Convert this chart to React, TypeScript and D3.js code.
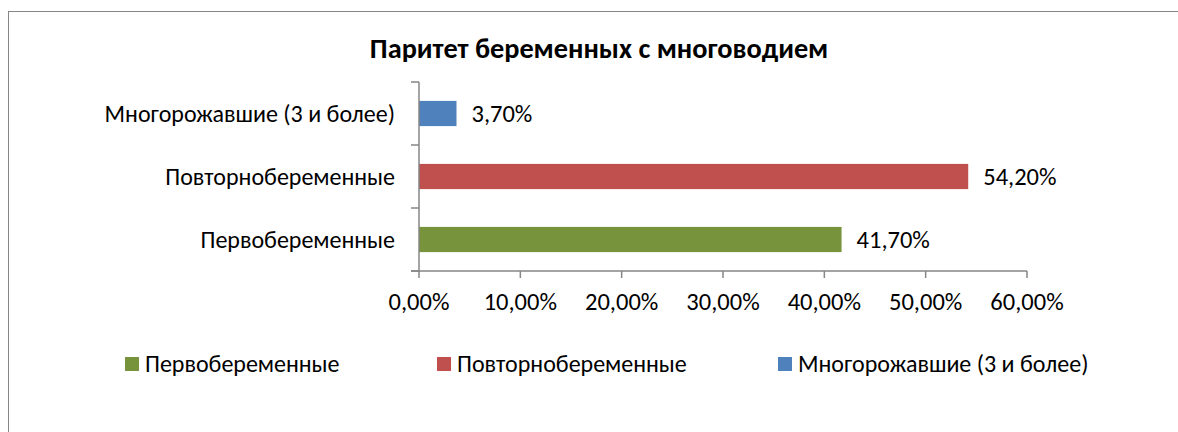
import React, { useRef, useEffect } from "react";
import * as d3 from "d3";

// data
const categories = ["Первобеременные", "Повторнобеременные", "Многорожавшие (3 и более)"];
const values = [41.7, 54.2, 3.7];
const colors = ["#77933C", "#C0504D", "#4F81BD"];
const xTicks = [0, 10, 20, 30, 40, 50, 60];
const title = "Паритет беременных с многоводием";

const FONT = "Carlito, Calibri, 'Noto Sans', sans-serif";
const TEXT_SIZE = "24px";
const NUM_SIZE = "24.5px";

const fmt = (v: number) => v.toFixed(2).replace(".", ",") + "%";

const App = () => {
  const ref = useRef<SVGSVGElement>(null);

  useEffect(() => {
    const width = 1178;
    const height = 432;
    const svg = d3.select(ref.current);
    svg.selectAll("*").remove();
    svg.attr("width", width).attr("height", height);

    svg
      .append("rect")
      .attr("x", 8.5)
      .attr("y", 11.5)
      .attr("width", 1200)
      .attr("height", 500)
      .attr("fill", "#fff")
      .attr("stroke", "#868686");

    svg
      .append("text")
      .attr("x", 599)
      .attr("y", 58)
      .attr("text-anchor", "middle")
      .style("font-family", FONT)
      .style("font-size", "28.3px")
      .style("font-weight", "bold")
      .text(title);

    const x = d3.scaleLinear().domain([0, 60]).range([419, 1027]);
    // top-to-bottom order is reversed (Excel bar chart)
    const order = [...categories].reverse();
    const y = d3
      .scaleBand()
      .domain(order)
      .range([82, 271])
      .paddingInner(0.6)
      .paddingOuter(0.3);

    const axisColor = "#868686";

    // bars
    svg
      .selectAll(".bar")
      .data(categories)
      .enter()
      .append("rect")
      .attr("x", x(0))
      .attr("y", (d) => y(d)!)
      .attr("width", (d, i) => x(values[i]) - x(0))
      .attr("height", y.bandwidth())
      .attr("fill", (d, i) => colors[i]);

    // value labels
    svg
      .selectAll(".val")
      .data(categories)
      .enter()
      .append("text")
      .attr("x", (d, i) => x(values[i]) + 15)
      .attr("y", (d) => y(d)! + y.bandwidth() / 2)
      .attr("dy", "0.35em")
      .style("font-family", FONT)
      .style("font-size", NUM_SIZE)
      .text((d, i) => fmt(values[i]));

    // y axis line + ticks at band boundaries
    const yAxis = svg.append("g").attr("stroke", axisColor).attr("stroke-width", 1.5);
    yAxis.append("line").attr("x1", x(0)).attr("x2", x(0)).attr("y1", 82).attr("y2", 271);
    d3.range(order.length + 1).forEach((i) => {
      const yy = 82 + i * y.step();
      yAxis.append("line").attr("x1", x(0) - 8).attr("x2", x(0)).attr("y1", yy).attr("y2", yy);
    });

    svg
      .selectAll(".cat")
      .data(categories)
      .enter()
      .append("text")
      .attr("x", x(0) - 24)
      .attr("y", (d) => y(d)! + y.bandwidth() / 2)
      .attr("dy", "0.35em")
      .attr("text-anchor", "end")
      .style("font-family", FONT)
      .style("font-size", TEXT_SIZE)
      .text((d) => d);

    // x axis
    const xAxis = svg.append("g").attr("stroke", axisColor).attr("stroke-width", 1.5);
    xAxis.append("line").attr("x1", x(0) - 8).attr("x2", x(60)).attr("y1", 271).attr("y2", 271);
    xTicks.forEach((t) => {
      xAxis.append("line").attr("x1", x(t)).attr("x2", x(t)).attr("y1", 271).attr("y2", 278);
    });
    svg
      .selectAll(".xt")
      .data(xTicks)
      .enter()
      .append("text")
      .attr("x", (t) => x(t))
      .attr("y", 301)
      .attr("dy", "0.35em")
      .attr("text-anchor", "middle")
      .style("font-family", FONT)
      .style("font-size", NUM_SIZE)
      .text((t) => fmt(t));

    // legend
    const legendX = [125, 437, 778];
    const lg = svg
      .selectAll(".legend")
      .data(categories)
      .enter()
      .append("g")
      .attr("transform", (d, i) => `translate(${legendX[i]},357)`);
    lg.append("rect")
      .attr("width", 14)
      .attr("height", 14)
      .attr("fill", (d, i) => colors[i]);
    lg.append("text")
      .attr("x", 20)
      .attr("y", 7)
      .attr("dy", "0.35em")
      .style("font-family", FONT)
      .style("font-size", TEXT_SIZE)
      .text((d) => d);
  }, []);

  return <svg ref={ref} style={{ position: "absolute", left: 0, top: 0 }}></svg>;
};

export default App;
